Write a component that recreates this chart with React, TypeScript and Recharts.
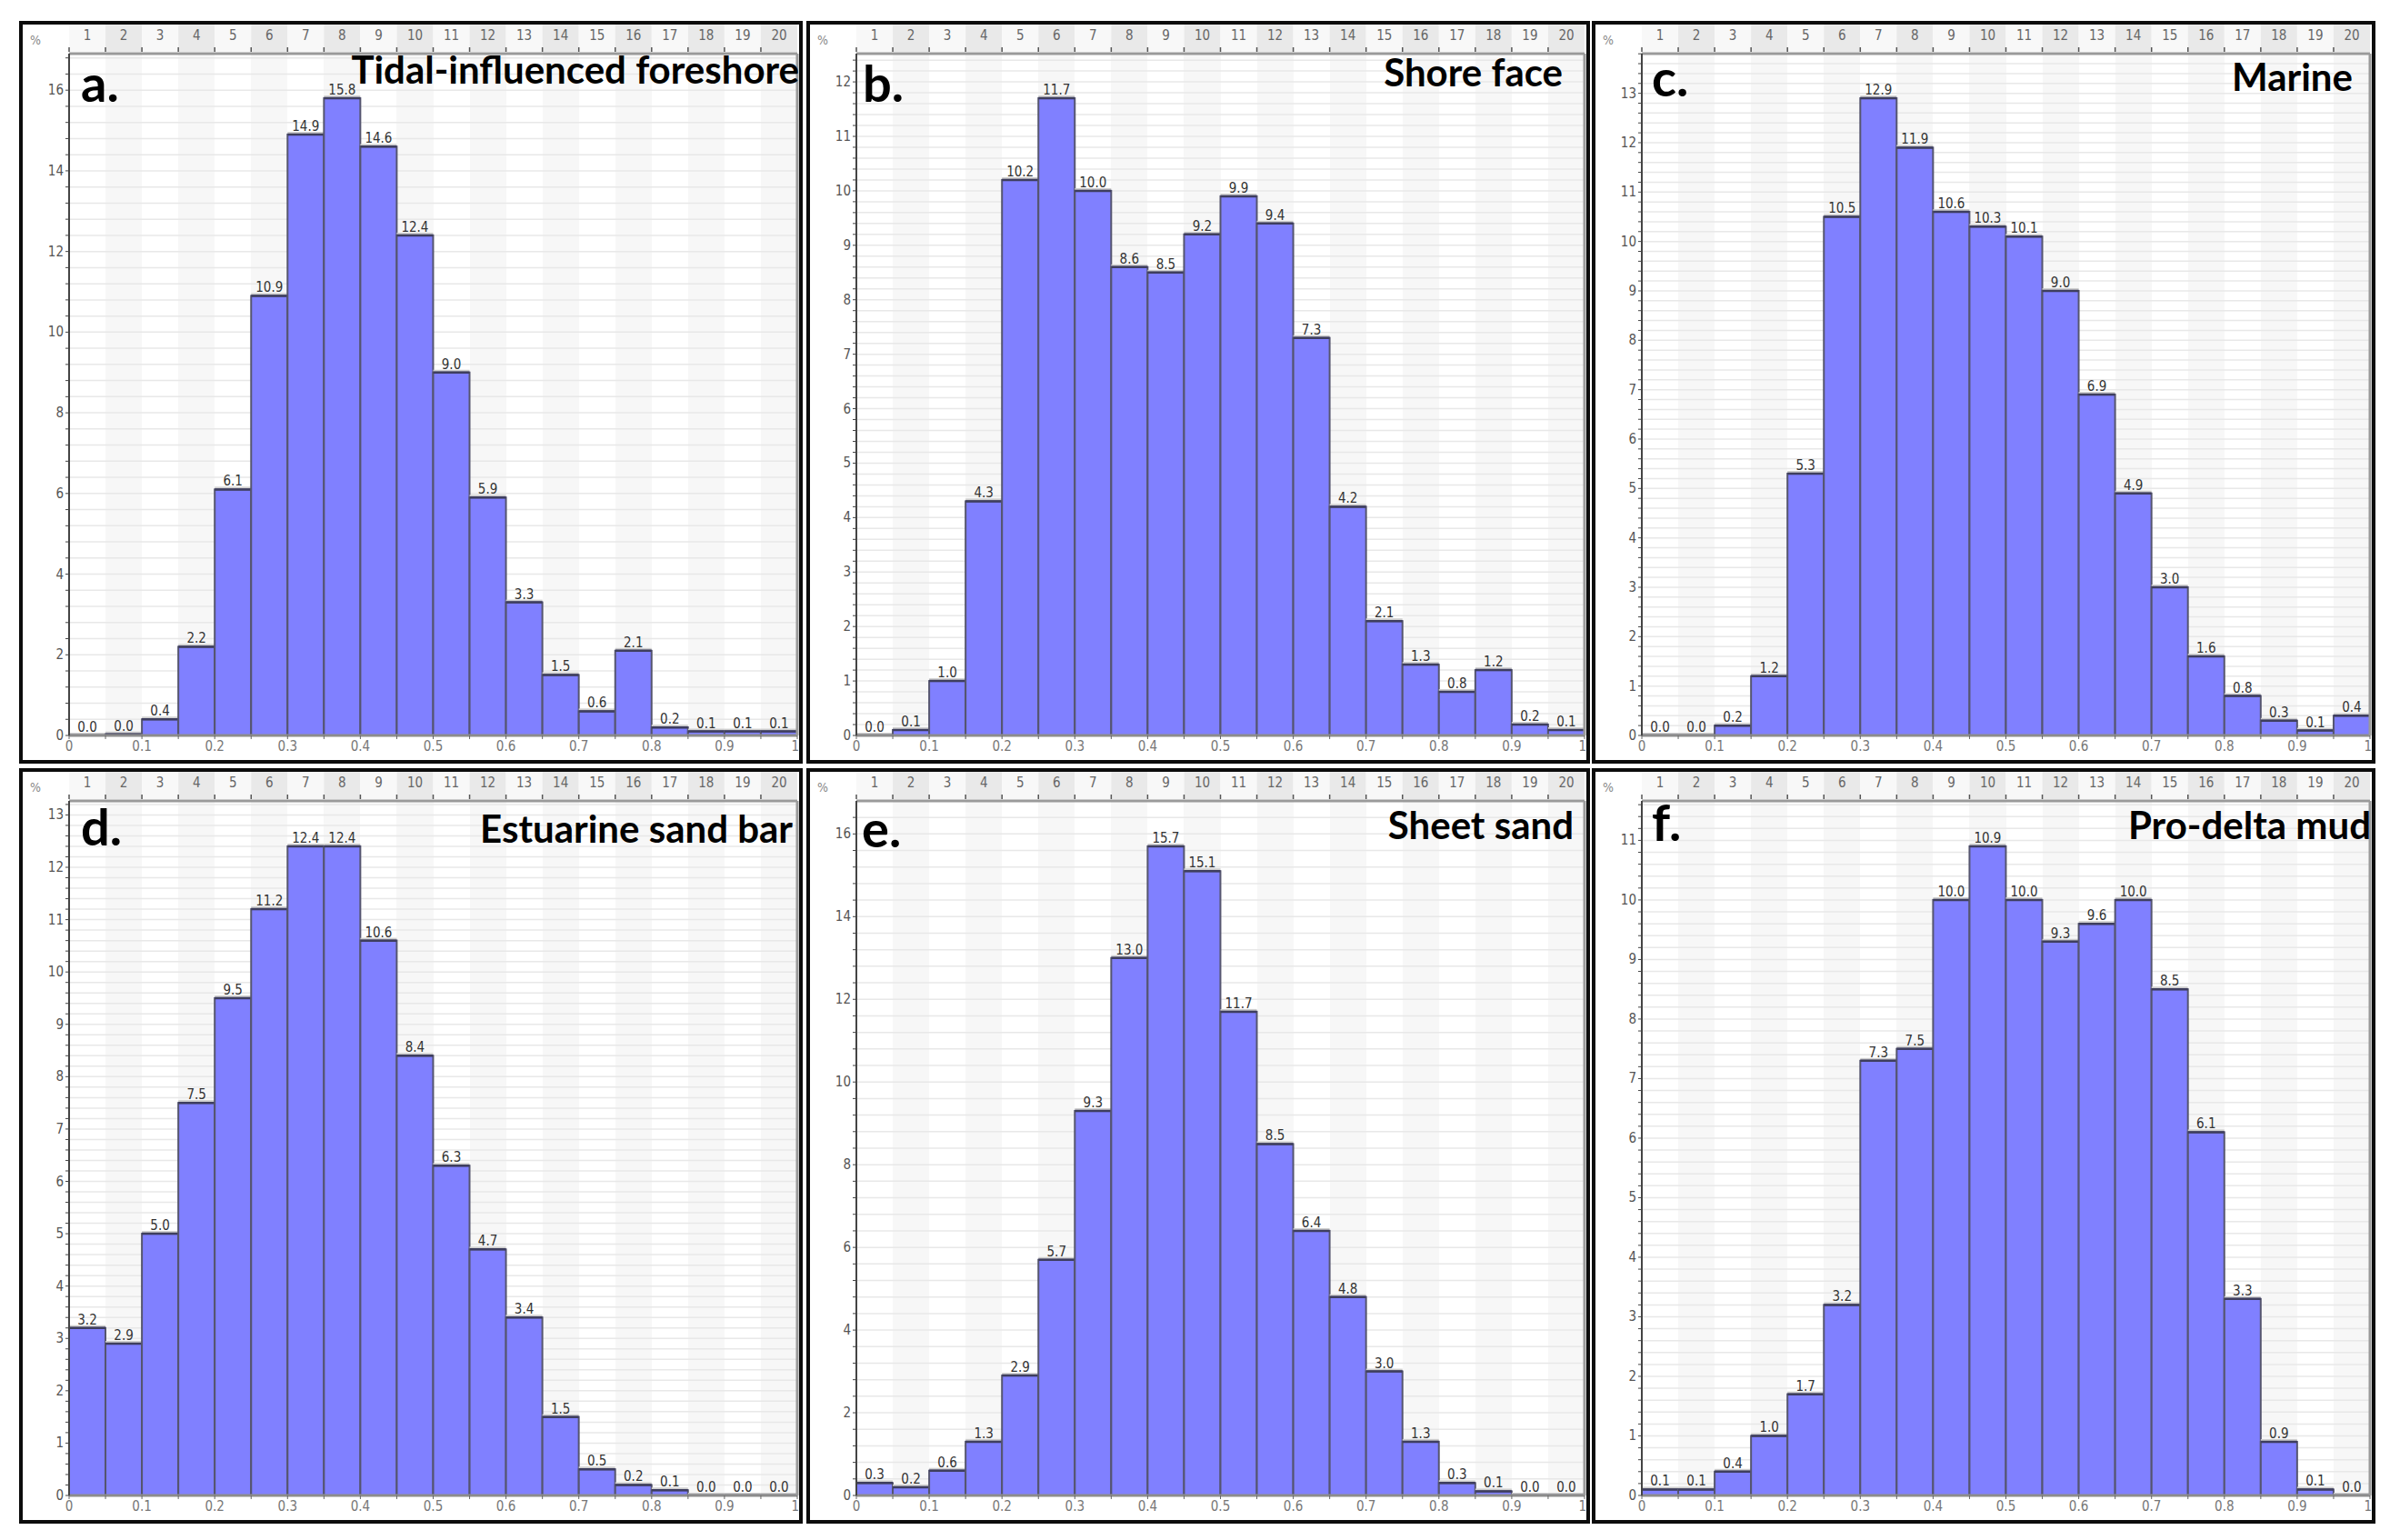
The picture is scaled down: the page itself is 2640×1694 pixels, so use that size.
import React from 'react';
import { BarChart, Bar, XAxis, YAxis, CartesianGrid, LabelList } from 'recharts';

// ---------- data ----------
const bins = [1, 2, 3, 4, 5, 6, 7, 8, 9, 10, 11, 12, 13, 14, 15, 16, 17, 18, 19, 20];
const xTickValues = [0, 0.05, 0.1, 0.15, 0.2, 0.25, 0.3, 0.35, 0.4, 0.45, 0.5, 0.55, 0.6, 0.65, 0.7, 0.75, 0.8, 0.85, 0.9, 0.95, 1];
const xTickLabels = ['0', '0.1', '0.2', '0.3', '0.4', '0.5', '0.6', '0.7', '0.8', '0.9', '1'];

const tidalForeshore = [0.0, 0.03, 0.4, 2.2, 6.1, 10.9, 14.9, 15.8, 14.6, 12.4, 9.0, 5.9, 3.3, 1.5, 0.6, 2.1, 0.2, 0.1, 0.1, 0.1];
const shoreFace = [0.0, 0.1, 1.0, 4.3, 10.2, 11.7, 10.0, 8.6, 8.5, 9.2, 9.9, 9.4, 7.3, 4.2, 2.1, 1.3, 0.8, 1.2, 0.2, 0.1];
const marine = [0.0, 0.0, 0.2, 1.2, 5.3, 10.5, 12.9, 11.9, 10.6, 10.3, 10.1, 9.0, 6.9, 4.9, 3.0, 1.6, 0.8, 0.3, 0.1, 0.4];
const estuarineSandBar = [3.2, 2.9, 5.0, 7.5, 9.5, 11.2, 12.4, 12.4, 10.6, 8.4, 6.3, 4.7, 3.4, 1.5, 0.5, 0.2, 0.1, 0.0, 0.0, 0.0];
const sheetSand = [0.3, 0.2, 0.6, 1.3, 2.9, 5.7, 9.3, 13.0, 15.7, 15.1, 11.7, 8.5, 6.4, 4.8, 3.0, 1.3, 0.3, 0.1, 0.0, 0.0];
const proDeltaMud = [0.1, 0.1, 0.4, 1.0, 1.7, 3.2, 7.3, 7.5, 10.0, 10.9, 10.0, 9.3, 9.6, 10.0, 8.5, 6.1, 3.3, 0.9, 0.1, 0.0];

const yLabelsA = [0, 2, 4, 6, 8, 10, 12, 14, 16];
const yLabelsB = [0, 1, 2, 3, 4, 5, 6, 7, 8, 9, 10, 11, 12];
const yLabelsC = [0, 1, 2, 3, 4, 5, 6, 7, 8, 9, 10, 11, 12, 13];
const yLabelsD = [0, 1, 2, 3, 4, 5, 6, 7, 8, 9, 10, 11, 12, 13];
const yLabelsE = [0, 2, 4, 6, 8, 10, 12, 14, 16];
const yLabelsF = [0, 1, 2, 3, 4, 5, 6, 7, 8, 9, 10, 11];

const letters = ['a.', 'b.', 'c.', 'd.', 'e.', 'f.'];
const titles = ['Tidal-influenced foreshore', 'Shore face', 'Marine', 'Estuarine sand bar', 'Sheet sand', 'Pro-delta mud'];

// ---------- layout / style ----------
const COL_X = [21, 887, 1751];
const COL_W = 862;
const ROW_Y = [23, 845];
const ROW_H = [817, 831];
const BORDER = 4;
const Y_AXIS_W = 51;
const R_AXIS_W = 2;
const TOP_H = 32;
const BOTTOM_H = 27;
const SMALL = "'Liberation Sans Narrow','DejaVu Sans Condensed','Arial Narrow',sans-serif";
const BIG = "Lato, 'Open Sans', sans-serif";

const panels = [
  { values: tidalForeshore, yLabels: yLabelsA, minor: 0.4, col: 0, row: 0, titleRight: 4, titleBase: 69, letterX: 68, letterBase: 89 },
  { values: shoreFace, yLabels: yLabelsB, minor: 0.2, col: 1, row: 0, titleRight: 30, titleBase: 72, letterX: 62, letterBase: 89 },
  { values: marine, yLabels: yLabelsC, minor: 0.2, col: 2, row: 0, titleRight: 25, titleBase: 77, letterX: 66, letterBase: 83 },
  { values: estuarineSandBar, yLabels: yLabelsD, minor: 0.2, col: 0, row: 1, titleRight: 11, titleBase: 82, letterX: 68, letterBase: 85 },
  { values: sheetSand, yLabels: yLabelsE, minor: 0.4, col: 1, row: 1, titleRight: 18, titleBase: 78, letterX: 61, letterBase: 87 },
  { values: proDeltaMud, yLabels: yLabelsF, minor: 0.2, col: 2, row: 1, titleRight: 5, titleBase: 78, letterX: 66, letterBase: 80 },
];

const BarShape = (p: any) => {
  const { x, y, width, height } = p;
  if (x == null || y == null) return <g />;
  const h = Math.max(height || 0, 0);
  return (
    <g>
      <rect x={x} y={y - 3} width={width} height={3} fill="#cfcfcf" />
      <rect x={x} y={y} width={width} height={h} fill="#8080ff" stroke="#55556f" strokeWidth={2} />
      <line x1={x} x2={x + width} y1={y} y2={y} stroke="#3e3e5e" strokeWidth={2.5} />
    </g>
  );
};

function Panel({ cfg, idx }: { cfg: any; idx: number }) {
  const w = COL_W;
  const h = ROW_H[cfg.row];
  const cw = w - 2 * BORDER;
  const ch = h - 2 * BORDER;
  const binW = (cw - Y_AXIS_W - R_AXIS_W) / bins.length;
  const data = cfg.values.map((v: number, i: number) => ({ bin: bins[i], v }));
  const top = Math.max(...cfg.values) * 1.07;
  const yTicks: number[] = [];
  for (let i = 0; i * cfg.minor <= top + 1e-9; i++) yTicks.push(Math.round(i * cfg.minor * 1000) / 1000);

  const TopTick = (p: any) => {
    const { x, payload, index } = p;
    return (
      <g>
        <rect x={x - binW / 2} y={0} width={binW} height={30} fill={index % 2 ? '#e9e9e9' : '#f8f8f8'} />
        <line x1={x - binW / 2} x2={x - binW / 2} y1={25} y2={30} stroke="#555" strokeWidth={1.5} />
        <text x={x} y={17} textAnchor="middle" fontFamily={SMALL} fontSize={15} fill="#666">{payload.value}</text>
      </g>
    );
  };

  const YTick = (p: any) => {
    const { x, y, payload } = p;
    if (!cfg.yLabels.includes(payload.value)) return <g />;
    return (
      <text x={x} y={y} dy={5} textAnchor="end" fontFamily={SMALL} fontSize={15} fill="#555">{payload.value}</text>
    );
  };

  const XTick = (p: any) => {
    const { x, y, payload } = p;
    const v = payload.value;
    const k = Math.round(v * 10);
    if (Math.abs(v * 10 - k) > 1e-6) return <g />;
    const last = k === xTickLabels.length - 1;
    return (
      <text x={last ? x + 2 : x} y={y} dy={12} textAnchor={last ? 'end' : 'middle'} fontFamily={SMALL} fontSize={15} fill="#777">{xTickLabels[k]}</text>
    );
  };

  return (
    <div
      style={{
        position: 'absolute',
        left: COL_X[cfg.col],
        top: ROW_Y[cfg.row],
        width: w,
        height: h,
        boxSizing: 'border-box',
        border: `${BORDER}px solid #0c0c0c`,
        background: '#fff',
        overflow: 'hidden',
      }}
    >
      <BarChart width={cw} height={ch} data={data} margin={{ top: 0, right: 0, bottom: 0, left: 0 }} barCategoryGap={0} barGap={0}>
        <CartesianGrid xAxisId="num" yAxisId="l" horizontal={false} vertical={true} stroke="none" verticalFill={['#ffffff', '#f7f7f7']} />
        <CartesianGrid xAxisId="num" yAxisId="l" horizontal={true} vertical={false} stroke="#e8e8e8" strokeWidth={1.5} />
        <XAxis
          xAxisId="top"
          orientation="top"
          dataKey="bin"
          height={TOP_H}
          interval={0}
          tickLine={false}
          axisLine={{ stroke: '#9a9a9a', strokeWidth: 3 }}
          tick={TopTick}
        />
        <XAxis
          xAxisId="num"
          orientation="bottom"
          type="number"
          dataKey="bin"
          domain={[0, 1]}
          allowDataOverflow
          ticks={xTickValues}
          interval={0}
          height={BOTTOM_H}
          tickSize={4}
          tickMargin={1}
          tickLine={{ stroke: '#666' }}
          axisLine={{ stroke: '#8c8c8c', strokeWidth: 3 }}
          tick={XTick}
        />
        <YAxis
          yAxisId="l"
          orientation="left"
          width={Y_AXIS_W}
          domain={[0, top]}
          allowDataOverflow
          ticks={yTicks}
          interval={0}
          tickSize={4}
          tickMargin={2}
          tickLine={{ stroke: '#444' }}
          axisLine={{ stroke: '#444', strokeWidth: 2 }}
          tick={YTick}
        />
        <YAxis
          yAxisId="r"
          orientation="right"
          width={R_AXIS_W}
          domain={[0, 1]}
          tick={false}
          tickLine={false}
          axisLine={{ stroke: '#9a9a9a', strokeWidth: 3 }}
        />
        <Bar xAxisId="top" yAxisId="l" dataKey="v" isAnimationActive={false} shape={BarShape}>
          <LabelList
            dataKey="v"
            position="top"
            offset={4}
            formatter={(v: any) => Number(v).toFixed(1)}
            fill="#333"
            fontSize={15}
            fontFamily={SMALL}
          />
        </Bar>
      </BarChart>
      <svg
        width={cw}
        height={ch}
        style={{ position: 'absolute', left: 0, top: 0, pointerEvents: 'none' }}
      >
        <text x={8} y={22} fontFamily={SMALL} fontSize={14} fill="#888">%</text>
        <text x={cfg.letterX - BORDER} y={cfg.letterBase - BORDER} fontFamily={BIG} fontWeight={700} fontSize={56} fill="#000">
          {letters[idx]}
        </text>
        <text
          x={w - cfg.titleRight - BORDER}
          y={cfg.titleBase - BORDER}
          textAnchor="end"
          fontFamily={BIG}
          fontWeight={700}
          fontSize={42}
          fill="#000"
        >
          {titles[idx]}
        </text>
      </svg>
    </div>
  );
}

export default function App() {
  return (
    <div style={{ position: 'absolute', left: 0, top: 0, width: 2640, height: 1694, background: '#fff', overflow: 'hidden' }}>
      {panels.map((cfg, i) => (
        <Panel key={i} cfg={cfg} idx={i} />
      ))}
    </div>
  );
}
